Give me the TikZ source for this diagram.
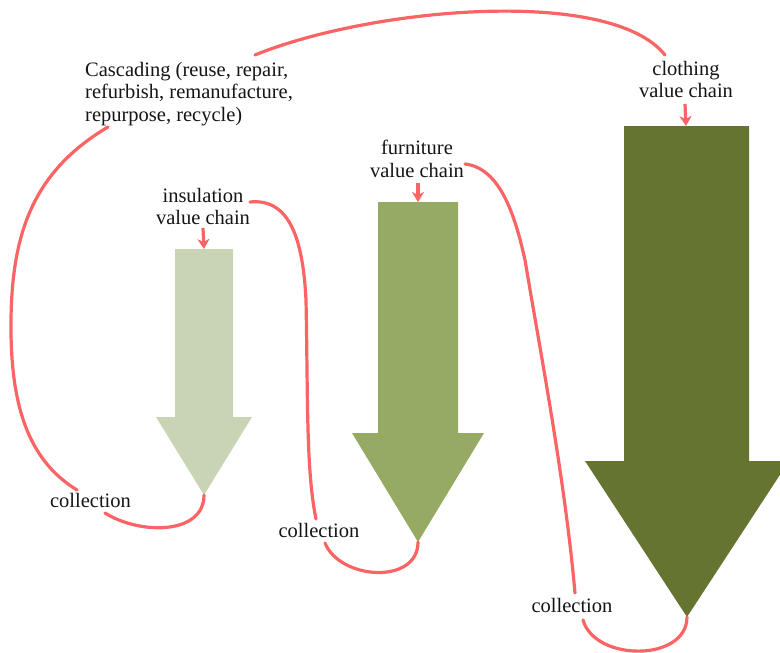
\documentclass[tikz,border=0pt]{standalone}
\usepackage{fontspec}
\setmainfont{Liberation Serif}
\newfontfamily\labelfont{Liberation Serif}
\usetikzlibrary{arrows.meta}
\definecolor{insgreen}{HTML}{C9D4B5}
\definecolor{furngreen}{HTML}{97AA64}
\definecolor{clothgreen}{HTML}{657430}
\definecolor{linkred}{HTML}{FA6464}
\definecolor{ink}{HTML}{151515}
\tikzset{
  lbl/.style={font=\labelfont\fontsize{20.5}{22.5}\selectfont, inner sep=0pt, text=ink},
  link/.style={draw=linkred, line width=3.2pt, line cap=round},
  feed/.style={draw=linkred, line width=3.2pt, -{Stealth[length=10pt,width=12pt,inset=3pt]}},
}
\begin{document}
\begin{tikzpicture}[x=1pt,y=-1pt]
\useasboundingbox (0,0) rectangle (780,653);
\clip (0,0) rectangle (780,653);

% block arrows of the three value chains
\fill[insgreen]  (175,249) -- (233,249) -- (233,417) -- (252,417) -- (204,495) -- (156,417) -- (175,417) -- cycle;
\fill[furngreen] (378,202) -- (458,202) -- (458,433) -- (484,433) -- (418,542) -- (352,433) -- (378,433) -- cycle;
\fill[clothgreen](624,126) -- (749,126) -- (749,461) -- (789,461) -- (687,617) -- (585,461) -- (624,461) -- cycle;
\coordinate (insTop) at (204,249);  \coordinate (insTip) at (204,495);
\coordinate (furnTop) at (418,202); \coordinate (furnTip) at (418,542);
\coordinate (clothTop) at (686,126); \coordinate (clothTip) at (687,617);

% labels
\node[lbl, align=left, anchor=north west] (casc) at (85,62)
  {Cascading (reuse, repair,\\refurbish, remanufacture,\\repurpose, recycle)};
\node[lbl, align=center, anchor=north] (cloth) at (686,61) {clothing\\value chain};
\node[lbl, align=center, anchor=north] (furn) at (417,140) {furniture\\value chain};
\node[lbl, align=center, anchor=north] (ins) at (203,188) {insulation\\value chain};
\node[lbl, anchor=base] (coll1) at (90.5,507) {collection};
\node[lbl, anchor=base] (coll2) at (319,537) {collection};
\node[lbl, anchor=base] (coll3) at (572,612) {collection};

% ends of the connectors next to the labels
\coordinate (cascTop) at (255,55);   \coordinate (cascBot) at (108,127);
\coordinate (clothIn) at (665,55);   \coordinate (clothOut) at (685,104);
\coordinate (furnOut) at (418,183);  \coordinate (furnSide) at (465,164);
\coordinate (insOut) at (203,228);   \coordinate (insSide) at (250,202);
\coordinate (c1in) at (77,490);      \coordinate (c1out) at (105,513);
\coordinate (c2in) at (316,519);     \coordinate (c2out) at (325,543);
\coordinate (c3in) at (575,593);     \coordinate (c3out) at (583,620);

% cascading loop into the clothing chain
\draw[link] (cascTop) .. controls (370,8) and (610,-14) .. (clothIn);
\draw[feed] (clothOut) -- (clothTop);
% clothing -> collection -> furniture
\draw[link] (clothTip) .. controls (687,662) and (595,662) .. (c3out);
\draw[link] (c3in) .. controls (565,480) and (540,350) .. (525,260)
                   .. controls (515,215) and (500,168) .. (furnSide);
\draw[feed] (furnOut) -- (furnTop);
% furniture -> collection -> insulation
\draw[link] (furnTip) .. controls (418,585) and (340,580) .. (c2out);
\draw[link] (c2in) .. controls (306,470) and (308,400) .. (306,300)
                   .. controls (303,240) and (290,198) .. (insSide);
\draw[feed] (insOut) -- (insTop);
% insulation -> collection -> cascading
\draw[link] (insTip) .. controls (204,535) and (140,535) .. (c1out);
\draw[link] (c1in) .. controls (28,460) and (10,405) .. (11,320)
                   .. controls (12,235) and (32,172) .. (cascBot);
\end{tikzpicture}
\end{document}
